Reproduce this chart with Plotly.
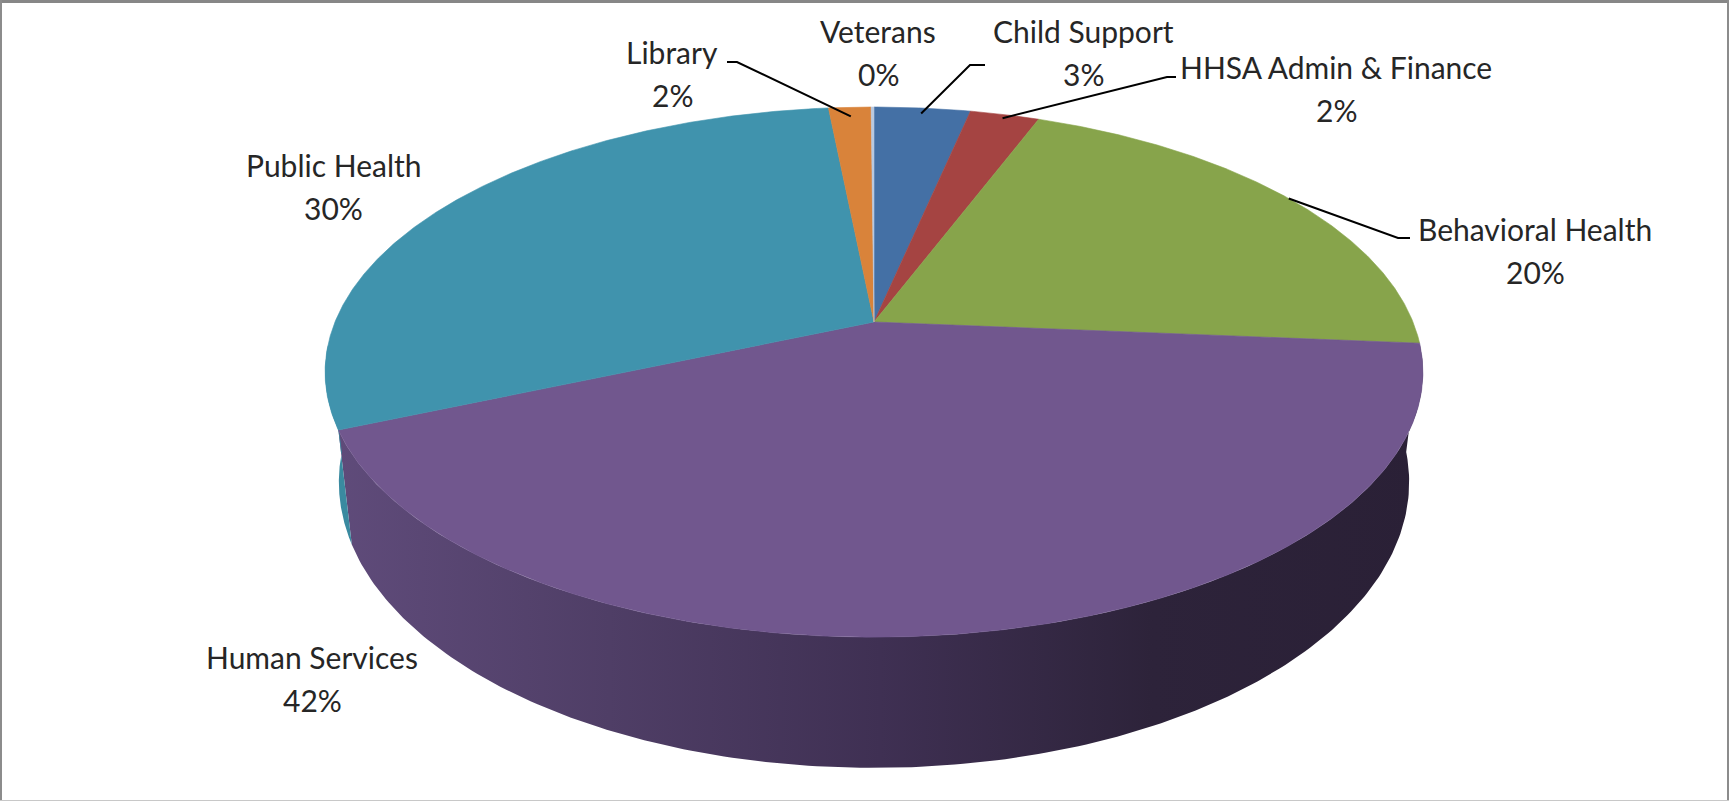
import numpy as np
import plotly.graph_objects as go

# ---------------- data ----------------
categories = ["Child Support", "HHSA Admin & Finance", "Behavioral Health",
              "Human Services", "Public Health", "Library", "Veterans"]
values = [3.4, 2.45, 20.45, 42.3, 29.8, 1.5, 0.1]
top_colors = ["#4470a5", "#a54442", "#87a44b", "#71578e", "#4093ad", "#d9833a", "#b9c9e0"]
side_colors = ["#34567f", "#7f3433", "#68803a", "#5e4a79", "#3a8aa0", "#b06a2c", "#8fa8cf"]

# ---------------- layout / style constants ----------------
W, H = 1729, 801
CX, CY = 874, 322          # apex of the pie on screen
A, B = 539, 255.6          # horizontal / vertical radii of the top face
P = 0.189                  # perspective factor
T = 106                    # thickness of the pie wall
BOTTOM_SHRINK = 0.975      # converging verticals (perspective)
FONT = dict(family="Lato, Noto Sans, sans-serif", size=30, color="#262626")
LINE_GAP = 43

# label placements: (x center, y of first line), leader (elbow, end) or None, anchor radius
label_layout = {
    "Veterans":             dict(x=878, y=31, leader=None, r=0.97),
    "Child Support":        dict(x=1083, y=31, leader=[(970, 65), (985, 65)], r=0.97),
    "HHSA Admin & Finance": dict(x=1336, y=67, leader=[(1167, 77), (1176, 77)], r=0.98),
    "Behavioral Health":    dict(x=1535, y=229, leader=[(1398, 238), (1410, 238)], r=1.0),
    "Human Services":       dict(x=312, y=657, leader=None, r=0.97),
    "Public Health":        dict(x=333, y=165, leader=None, r=0.97),
    "Library":              dict(x=672, y=52, leader=[(737, 62), (727, 62)], r=0.95),
}


def proj(theta_deg, r=1.0, h=0.0):
    t = np.radians(theta_deg)
    u = r * np.sin(t)
    v = r * np.cos(t)
    k = 1.0 / (1.0 + P * v)
    sx = 1.0 - (1.0 - BOTTOM_SHRINK) * h
    return CX + A * u * k * sx, CY - B * v * k + T * h * k


VIS0 = 90 + np.degrees(np.arcsin(P)) - 6
VIS1 = 270 - np.degrees(np.arcsin(P)) + 6

total = sum(values)
cum = np.concatenate([[0.0], np.cumsum(values)]) / total * 360.0

fig = go.Figure()

# side walls
for i, name in enumerate(categories):
    a0, a1 = cum[i], cum[i + 1]
    s, e = max(a0, VIS0), min(a1, VIS1)
    if s >= e:
        continue
    th = np.linspace(s, e, 200)
    xt, yt = proj(th, 1, 0)
    xb, yb = proj(th[::-1], 1, 1)
    xs = np.concatenate([xt, xb, xt[:1]])
    ys = np.concatenate([yt, yb, yt[:1]])
    kw = {}
    if name == "Human Services":
        kw["fillgradient"] = dict(type="horizontal",
                                  colorscale=[[0, "#5f4b7a"], [0.25, "#4f3e66"],
                                              [0.5, "#3f3053"], [0.75, "#2d233a"],
                                              [1, "#2a2036"]])
        lc = "#3f3053"
    else:
        kw["fillcolor"] = side_colors[i]
        lc = side_colors[i]
    fig.add_trace(go.Scatter(x=xs, y=ys, mode="lines", fill="toself",
                             line=dict(width=0, color=lc),
                             hoverinfo="skip", **kw))

# top faces
for i, name in enumerate(categories):
    a0, a1 = cum[i], cum[i + 1]
    th = np.linspace(a0, a1, max(3, int((a1 - a0) * 3)))
    x, y = proj(th, 1, 0)
    xs = np.concatenate([[CX], x, [CX]])
    ys = np.concatenate([[CY], y, [CY]])
    fig.add_trace(go.Scatter(x=xs, y=ys, mode="lines", fill="toself",
                             fillcolor=top_colors[i],
                             line=dict(width=0.6, color=top_colors[i]),
                             name=name, hoverinfo="name"))

# labels and leader lines
annotations = []
for i, name in enumerate(categories):
    lay = label_layout[name]
    pct = f"{int(values[i] / total * 100 + 0.5)}%"
    annotations.append(dict(x=lay["x"], y=lay["y"], text=name, showarrow=False,
                            xref="x", yref="y", xanchor="center", yanchor="middle",
                            font=FONT))
    annotations.append(dict(x=lay["x"], y=lay["y"] + LINE_GAP, text=pct, showarrow=False,
                            xref="x", yref="y", xanchor="center", yanchor="middle",
                            font=FONT))
    if lay["leader"]:
        mid = (cum[i] + cum[i + 1]) / 2
        ax, ay = proj(mid, lay["r"], 0)
        xs = [float(ax)] + [p[0] for p in lay["leader"]]
        ys = [float(ay)] + [p[1] for p in lay["leader"]]
        fig.add_trace(go.Scatter(x=xs, y=ys, mode="lines",
                                 line=dict(color="#000000", width=2),
                                 hoverinfo="skip"))

shapes = [
    dict(type="line", x0=0, x1=W, y0=1.5, y1=1.5, line=dict(color="#878787", width=3)),
    dict(type="line", x0=1, x1=1, y0=0, y1=H, line=dict(color="#8c8c8c", width=2)),
    dict(type="line", x0=W - 1, x1=W - 1, y0=0, y1=H, line=dict(color="#8c8c8c", width=2)),
    dict(type="line", x0=0, x1=W, y0=H - 0.5, y1=H - 0.5, line=dict(color="#c8c8c8", width=1)),
]

fig.update_layout(
    width=W, height=H, margin=dict(l=0, r=0, t=0, b=0),
    paper_bgcolor="white", plot_bgcolor="white", showlegend=False,
    xaxis=dict(range=[0, W], visible=False, fixedrange=True),
    yaxis=dict(range=[H, 0], visible=False, fixedrange=True),
    annotations=annotations, shapes=shapes,
)

fig.write_html("out.html", config={"displayModeBar": False},
               post_script="document.body.style.margin='0';document.body.style.overflow='hidden';")
